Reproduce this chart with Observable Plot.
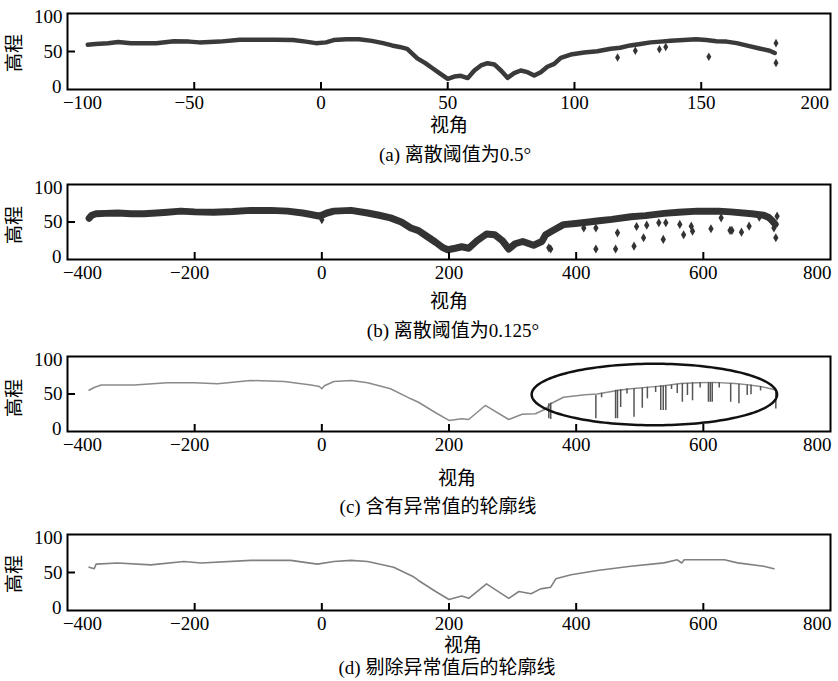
<!DOCTYPE html>
<html><head><meta charset="utf-8">
<script src="https://cdn.jsdelivr.net/npm/d3@7"></script>
<script src="https://cdn.jsdelivr.net/npm/@observablehq/plot@0.6"></script>
<style>
body{margin:0;background:#fff;width:838px;height:681px;position:relative;overflow:hidden;font-family:'Liberation Serif','Noto Sans CJK SC',serif;color:#000}
.p{position:absolute;left:0}
.t{position:absolute;transform:translate(-50%,-50%);white-space:nowrap;font-size:19px;line-height:1}
.yl{position:absolute;transform:translate(-50%,-50%) rotate(-90deg);white-space:nowrap;font-size:19px;line-height:1}
</style></head><body>
<script>
// ---------- data ----------
const yTicks = [0, 50, 100];
const aTicks = [-100, -50, 0, 50, 100, 150, 200];
const bTicks = [-400, -200, 0, 200, 400, 600, 800];

// (a) 离散阈值为0.5°: main profile (视角, 高程)
const aX = [-92, -89, -84, -80, -75, -71, -65, -58, -52, -48, -40, -32, -25, -18, -11, -6, -2, 2, 5, 10, 15, 20, 24.5, 28, 31, 34, 38, 41, 44, 47, 50, 52.6, 55.2, 57.9, 60.5, 63.1, 65.7, 68.4, 71, 73.6, 76.2, 78.8, 81.5, 84.1, 86.7, 89.3, 92, 94.6, 98.5, 103.8, 109, 114.3, 118, 122, 126, 130, 134, 138, 143, 148, 152, 156, 160, 164, 169, 173, 177, 179];
const aY = [59, 60, 61, 62.5, 61, 61, 61, 63.5, 63, 62, 63, 65.5, 65.5, 65.5, 65, 63, 61, 62, 65, 66, 66, 64, 61, 58, 56, 53.5, 41, 35, 28, 21, 14, 17, 18, 15, 25, 31.6, 34.6, 33, 25, 15.4, 21.5, 25, 22.8, 18.4, 22.8, 30, 33.8, 41.7, 46, 48.7, 50.4, 53.5, 55, 58, 60, 62, 63, 64, 65, 66, 65, 63.5, 63, 61, 57, 54, 51, 48];
const aOutX = [117, 124, 133.5, 136, 153, 179.5, 179.5];
const aOutY = [42, 51, 53, 56, 43, 61, 35];

// (b) 离散阈值为0.125°
const bX = [-366, -362, -355, -340, -321, -300, -280, -260, -243, -222, -200, -170, -140, -112, -80, -54, -30, -17, -5, 0, 8, 19, 46, 72, 90, 108, 125, 140, 152, 165, 179, 190, 198, 210, 220, 231, 244, 259, 272, 284, 294, 304, 316, 333, 346, 352, 362, 380, 399, 420, 436, 456, 486, 509, 538, 561, 591, 624, 643, 676, 695, 703, 708, 713];
const bY = [55, 59, 61, 61.5, 62, 61, 61, 62, 63, 64.5, 63.5, 63, 64, 65.5, 65.5, 64.5, 62, 60, 58, 59, 62, 64.5, 65.5, 62, 59, 55.5, 50, 42, 38.5, 31, 23, 16, 13, 15, 17, 15, 25, 34, 33, 25, 14, 21, 24, 19, 24, 33, 38, 46.5, 48, 50, 51.6, 53.5, 57, 58.5, 61.5, 63, 64.5, 64.5, 63.5, 61, 59, 56, 52, 47];
const bOutX = [0, 357, 360, 412, 431, 431, 462, 465, 491, 495, 506, 511, 530, 541, 537, 563, 569, 581, 583, 612, 628, 642, 645, 660, 672, 688, 716, 714, 711];
const bOutY = [53, 15.6, 14, 42, 42, 14, 14, 35.6, 17.8, 44, 29, 45.7, 49, 49, 26.7, 46.7, 33, 44.4, 37.8, 41, 55.6, 38.7, 38.7, 36.4, 44.4, 56.4, 57.8, 29, 42];

// (c) 含有异常值的轮廓线
const cX = [-366, -362, -357, -347, -295, -243, -201, -164, -112, -59, -17, -4, 0, 4, 19, 46, 72, 108, 140, 152, 179, 200, 220, 231, 257, 294, 315, 336, 352, 360, 380, 414, 433, 467, 486, 519, 538, 564, 590, 616, 650, 668, 690, 706, 715];
const cY = [55, 57, 59, 62, 62, 65, 65, 63.6, 68, 66.7, 62, 60, 57, 61, 66.7, 68, 65, 57, 43.6, 39, 25, 14.7, 17, 16, 34.7, 16, 23, 23.6, 30, 37, 45.7, 49, 50, 55, 57, 59.5, 61, 64, 65, 65.5, 64, 62.5, 60, 57, 55];
// spikes: [视角, from, to]
const cSpikes = [[357, 37, 17], [360, 38, 16], [431, 48, 17], [440, 51, 45], [462, 55, 17], [465, 55, 17], [470, 56, 32], [480, 57, 50], [491, 57, 19], [504, 58, 31], [512, 59, 43.6], [525, 60, 52], [533, 61, 28], [537, 61, 28], [541, 61, 28], [550, 62, 56], [559, 63, 50.6], [567, 64, 39], [575, 64, 48], [583, 65, 41], [595, 65, 58], [608, 65, 39], [611, 65, 39], [614, 65, 39], [625, 65, 58], [643, 64, 39], [656, 63, 37], [669, 62, 48], [675, 62, 49], [690, 60, 54], [714, 56, 30]];
// annotation ellipse (center 视角, center 高程, radii)
const cEllipse = {cx: 523, cy: 49.3, rx: 193, ry: 41};

// (d) 剔除异常值后的轮廓线
const dX = [-366, -358, -355, -321, -269, -217, -190, -112, -49, -7, 19, 46, 72, 113, 145, 152, 179, 200, 220, 231, 259, 294, 310, 329, 344, 360, 368, 392, 433, 486, 538, 559, 566, 570, 633, 654, 695, 711];
const dY = [57, 55, 61, 62.5, 60, 64.5, 62.5, 66, 66, 61, 64.5, 66, 64.5, 57, 44, 39.5, 25, 14.5, 19, 16, 35, 16, 25, 22, 28.5, 30.7, 41.7, 47, 52.6, 58.3, 62.7, 66.7, 62.5, 66.7, 66.7, 62.7, 58.3, 55];

const captions = ["(a) 离散阈值为0.5°", "(b) 离散阈值为0.125°", "(c) 含有异常值的轮廓线", "(d) 剔除异常值后的轮廓线"];
const xLabel = "视角", yLabel = "高程";

// ---------- drawing ----------
const FONT = "'Liberation Serif','Noto Sans CJK SC',serif";
const zip = (xs, ys) => xs.map((x, i) => ({x, y: ys[i]}));
const ML = 67, MR = 8, W = 838, FW = W - ML - MR;

function panel({top, h, domain, ticks, marks}) {
  const first = ticks[0], last = ticks[ticks.length - 1];
  const mid = ticks.slice(1, -1);
  const ax = {tickSize: 0, tickPadding: 6, label: null};
  const svg = Plot.plot({
    width: W, height: 13 + h + 34, marginTop: 13, marginBottom: 34, marginLeft: ML, marginRight: MR,
    x: {domain, label: null},
    y: {domain: [0, 100], label: null},
    style: {fontFamily: FONT, fontSize: "19px", color: "#000", background: "transparent", overflow: "visible"},
    marks: [
      Plot.axisX({...ax, ticks: mid.filter(t => t < 0), dx: -5}),
      Plot.axisX({...ax, ticks: mid.filter(t => t >= 0)}),
      Plot.axisX({...ax, ticks: [first], dx: 15}),
      Plot.axisX({...ax, ticks: [last], textAnchor: "end", dx: 1}),
      Plot.axisY({ticks: [0], tickSize: 0, tickPadding: 6, label: null, dy: -3}),
      Plot.axisY({ticks: [50], tickSize: 0, tickPadding: 5, label: null}),
      Plot.axisY({ticks: [100], tickSize: 0, tickPadding: 5, label: null, dy: 3}),
      ...marks,
      Plot.tickX(ticks.slice(1, -1), {insetTop: h - 7, stroke: "#000", strokeWidth: 2}),
      Plot.tickY([50], {insetRight: FW - 8, stroke: "#000", strokeWidth: 2}),
      Plot.frame({stroke: "#000", strokeWidth: 2})
    ]
  });
  const div = document.createElement("div");
  div.className = "p";
  div.style.top = (top - 13) + "px";
  div.appendChild(svg);
  document.body.appendChild(div);
}

function label(cls, text, x, y, size) {
  const d = document.createElement("div");
  d.className = cls;
  d.textContent = text;
  d.style.left = x + "px";
  d.style.top = y + "px";
  if (size) d.style.fontSize = size + "px";
  document.body.appendChild(d);
}

const ellipsePts = d3.range(0, 361, 2).map(a => ({
  x: cEllipse.cx + cEllipse.rx * Math.cos(a * Math.PI / 180),
  y: cEllipse.cy + cEllipse.ry * Math.sin(a * Math.PI / 180)
}));

panel({top: 13, h: 76, domain: [-100, 201], ticks: aTicks, marks: [
  Plot.line(zip(aX, aY), {x: "x", y: "y", stroke: "#3a3a3a", strokeWidth: 4.5, strokeLinejoin: "round", strokeLinecap: "round"}),
  Plot.dot(zip(aOutX, aOutY), {x: "x", y: "y", symbol: "diamond", r: 2.6, fill: "#333"})
]});
panel({top: 184, h: 75, domain: [-400, 800], ticks: bTicks, marks: [
  Plot.line(zip(bX, bY), {x: "x", y: "y", stroke: "#333", strokeWidth: 7, strokeLinejoin: "round", strokeLinecap: "round"}),
  Plot.dot(zip(bOutX, bOutY), {x: "x", y: "y", symbol: "diamond", r: 2.8, fill: "#333"})
]});
panel({top: 356, h: 75, domain: [-400, 800], ticks: bTicks, marks: [
  Plot.line(zip(cX, cY), {x: "x", y: "y", stroke: "#8a8a8a", strokeWidth: 1.5}),
  Plot.ruleX(cSpikes, {x: d => d[0], y1: d => d[1], y2: d => d[2], stroke: "#555", strokeWidth: 1.5}),
  Plot.line(ellipsePts, {x: "x", y: "y", stroke: "#111", strokeWidth: 2.5})
]});
panel({top: 534, h: 76, domain: [-400, 800], ticks: bTicks, marks: [
  Plot.line(zip(dX, dY), {x: "x", y: "y", stroke: "#808080", strokeWidth: 1.6})
]});

// axis titles & captions
[[449, 125], [449, 301], [457, 478], [463, 645]].forEach(([x, y]) => label("t", xLabel, x, y));
[[14, 53], [14, 225], [14, 398], [14, 574]].forEach(([x, y]) => label("yl", yLabel, x, y));
[[455, 154], [453, 330], [438, 506], [447, 667]].forEach(([x, y], i) => label("t", captions[i], x, y, 19));
</script></body></html>
